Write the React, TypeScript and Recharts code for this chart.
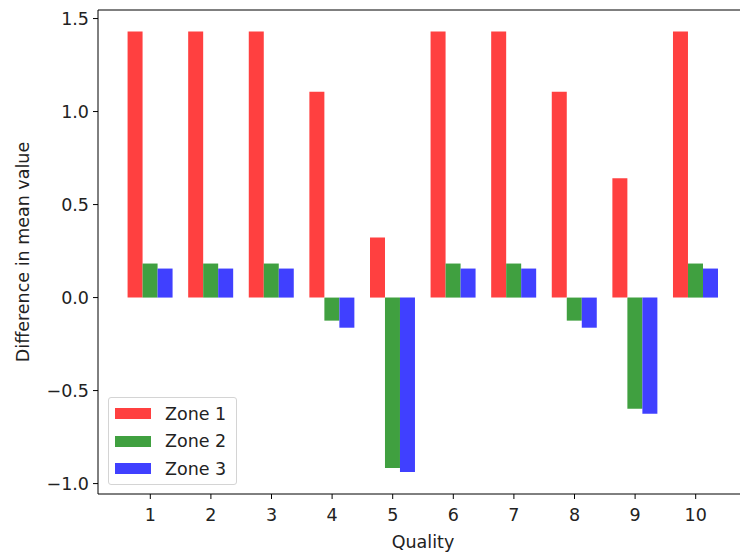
import { BarChart, Bar, XAxis, YAxis, Legend, ReferenceLine, Label } from 'recharts';

// quality categories and mean differences per zone
const qualities = ['1', '2', '3', '4', '5', '6', '7', '8', '9', '10'];
const zone1 = [1.43, 1.43, 1.43, 1.107, 0.323, 1.43, 1.43, 1.107, 0.641, 1.43];
const zone2 = [0.183, 0.183, 0.183, -0.124, -0.916, 0.183, 0.183, -0.124, -0.598, 0.183];
const zone3 = [0.156, 0.156, 0.156, -0.162, -0.938, 0.156, 0.156, -0.162, -0.625, 0.156];
const yTicks = [-1.0, -0.5, 0.0, 0.5, 1.0, 1.5];
const yDomain = [-1.056, 1.546];

const FONT = '"DejaVu Sans", sans-serif';
const FS = 17.5;

const data = qualities.map((q, i) => ({
    quality: q,
    zone1: zone1[i],
    zone2: zone2[i],
    zone3: zone3[i],
}));

// matplotlib style tick labels use a real minus sign
const fmt = (v: number) => {
    const s = Math.abs(v).toFixed(1);
    return v < 0 ? '\u2212' + s : s;
};

const LegendBox = ({ payload }: any) => (
    <div
        style={{
            boxSizing: 'border-box',
            width: 129,
            height: 88,
            border: '1px solid #d4d4d4',
            borderRadius: 3,
            background: 'rgba(255,255,255,0.8)',
            padding: '2px 0 0 6px',
            fontFamily: FONT,
            fontSize: FS,
            color: '#222',
        }}
    >
        {(payload || []).map((p: any) => (
            <div key={p.value} style={{ display: 'flex', alignItems: 'center', height: 27.5 }}>
                <div style={{ width: 36, height: 11, background: p.color, marginRight: 14 }} />
                <span>{p.value}</span>
            </div>
        ))}
    </div>
);

export default function App() {
    return (
        <div style={{ position: 'absolute', left: 0, top: 0, width: 740, height: 554, overflow: 'hidden', background: '#fff' }}>
            <BarChart
                width={762}
                height={554}
                data={data}
                margin={{ top: 10, right: 14, left: 18, bottom: 0 }}
                barCategoryGap="12.5%"
                barGap={0}
            >
                <XAxis
                    dataKey="quality"
                    height={60}
                    padding={{ left: 22, right: 22 }}
                    axisLine={{ stroke: '#000' }}
                    tickLine={{ stroke: '#000' }}
                    tickSize={5}
                    tickMargin={10}
                    tick={{ fill: '#222', fontSize: FS, fontFamily: FONT }}
                    interval={0}
                >
                    <Label
                        value="Quality"
                        position="insideBottom"
                        offset={6}
                        style={{ fill: '#222', fontSize: FS, fontFamily: FONT }}
                    />
                </XAxis>
                <YAxis
                    type="number"
                    width={80}
                    domain={yDomain}
                    ticks={yTicks}
                    tickFormatter={fmt}
                    allowDataOverflow
                    axisLine={{ stroke: '#000' }}
                    tickLine={{ stroke: '#000' }}
                    tickSize={5}
                    tickMargin={4}
                    tick={{ fill: '#222', fontSize: FS, fontFamily: FONT }}
                >
                    <Label
                        value="Difference in mean value"
                        angle={-90}
                        position="center"
                        dx={-35}
                        style={{ fill: '#222', fontSize: FS, fontFamily: FONT, textAnchor: 'middle' }}
                    />
                </YAxis>
                {/* top spine */}
                <ReferenceLine y={yDomain[1]} stroke="#000" strokeWidth={1} />
                <Legend
                    layout="vertical"
                    align="center"
                    verticalAlign="middle"
                    content={<LegendBox />}
                    wrapperStyle={{ left: 108, top: 397, width: 'auto', height: 'auto' }}
                />
                <Bar dataKey="zone1" name="Zone 1" fill="#ff4040" isAnimationActive={false} />
                <Bar dataKey="zone2" name="Zone 2" fill="#40a040" isAnimationActive={false} />
                <Bar dataKey="zone3" name="Zone 3" fill="#4040ff" isAnimationActive={false} />
            </BarChart>
        </div>
    );
}
